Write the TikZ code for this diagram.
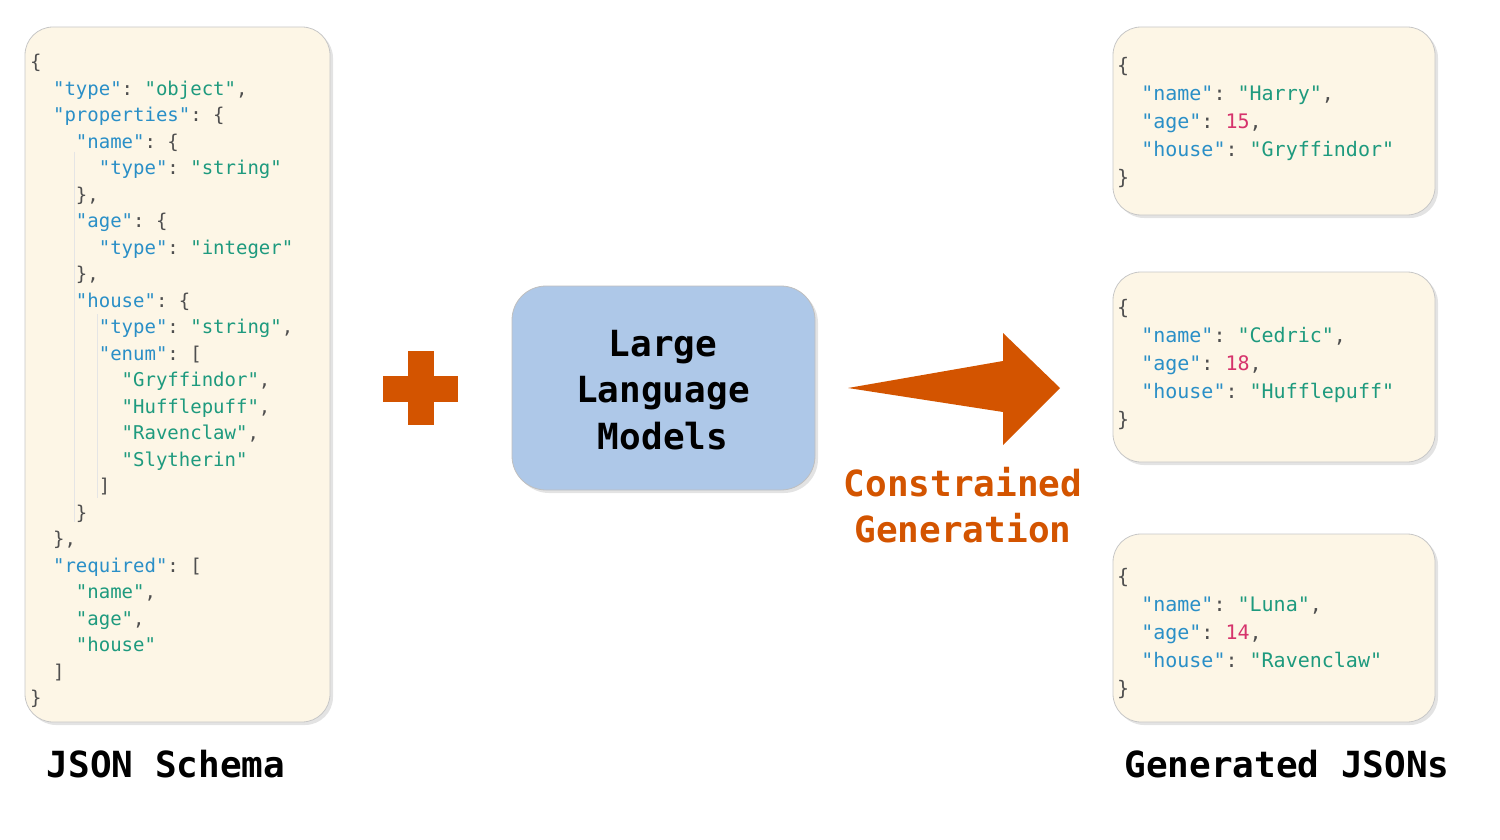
\documentclass[tikz,border=0pt]{standalone}
\usepackage{fontspec}
\usepackage{xcolor}
\usepackage{tikz}
\usetikzlibrary{shadows}
\setmonofont{DejaVu Sans Mono}
\definecolor{cream}{HTML}{FDF6E6}
\definecolor{llmblue}{HTML}{AEC8E8}
\definecolor{burnt}{HTML}{D35400}
\definecolor{jkey}{HTML}{2A8FC7}
\definecolor{jstr}{HTML}{1E9A7E}
\definecolor{jnum}{HTML}{D6336C}
\definecolor{jpunct}{HTML}{4F4F4F}
\newcommand\jk[1]{\textcolor{jkey}{"#1"}}
\newcommand\js[1]{\textcolor{jstr}{"#1"}}
\newcommand\jn[1]{\textcolor{jnum}{#1}}
\newcommand\ind[1]{\hspace*{\dimexpr#1\fontcharwd\font`x*2\relax}}
\tikzset{
  codebox/.style={draw=black!22, line width=0.8pt, fill=cream, rounded corners=28pt,
    drop shadow={opacity=0.22, shadow xshift=3pt, shadow yshift=-3pt}},
  llmbox/.style={draw=black!25, line width=0.8pt, fill=llmblue, rounded corners=34pt,
    drop shadow={opacity=0.22, shadow xshift=3pt, shadow yshift=-3pt}},
  guide/.style={draw=black!10, line width=0.8pt},
  schema/.style={anchor=north west, inner sep=0pt, align=left, text=jpunct,
    font=\ttfamily\fontsize{19}{26.5}\selectfont},
  sample/.style={anchor=north west, inner sep=0pt, align=left, text=jpunct,
    font=\ttfamily\fontsize{20}{28}\selectfont},
  big/.style={font=\ttfamily\bfseries\fontsize{36}{46.5}\selectfont, align=center, inner sep=0pt},
}

\begin{document}
\begin{tikzpicture}[x=1pt, y=-1pt]
  \useasboundingbox (0,0) rectangle (1500,840);
  % input schema
  \path[codebox] (25,27) rectangle (330,722);
  \draw[guide] (74,152) -- (74,522);
  \draw[guide] (97,314) -- (97,498);
  \node[schema] (schema) at (30,54) {%
    \{\\
    \ind1\jk{type}: \js{object},\\
    \ind1\jk{properties}: \{\\
    \ind2\jk{name}: \{\\
    \ind3\jk{type}: \js{string}\\
    \ind2\},\\
    \ind2\jk{age}: \{\\
    \ind3\jk{type}: \js{integer}\\
    \ind2\},\\
    \ind2\jk{house}: \{\\
    \ind3\jk{type}: \js{string},\\
    \ind3\jk{enum}: [\\
    \ind4\js{Gryffindor},\\
    \ind4\js{Hufflepuff},\\
    \ind4\js{Ravenclaw},\\
    \ind4\js{Slytherin}\\
    \ind3]\\
    \ind2\}\\
    \ind1\},\\
    \ind1\jk{required}: [\\
    \ind2\js{name},\\
    \ind2\js{age},\\
    \ind2\js{house}\\
    \ind1]\\
    \}};
  \node[big] (schemalabel) at (166,764) {JSON Schema};

  % plus sign
  \fill[burnt] (383,376) rectangle (458,402);
  \fill[burnt] (408,351) rectangle (434,425);

  % the model
  \path[llmbox] (512,286) rectangle (815,490);
  \node[big] (llm) at (663,390) {Large\\Language\\Models};

  % arrow
  \coordinate (tail) at (848,388);
  \coordinate (tip) at (1060,388);
  \fill[burnt] (tail) -- (1003,361) -- (1003,333) -- (tip) -- (1003,445) -- (1003,412) -- cycle;
  \node[big, text=burnt] (constr) at (963,505) {Constrained\\Generation};

  % outputs
  \path[codebox] (1113,27) rectangle (1435,215);
  \path[codebox] (1113,272) rectangle (1435,462);
  \path[codebox] (1113,534) rectangle (1435,722);
  \node[sample] (harry) at (1117,57) {%
    \{\\
    \ind1\jk{name}: \js{Harry},\\
    \ind1\jk{age}: \jn{15},\\
    \ind1\jk{house}: \js{Gryffindor}\\
    \}};
  \node[sample] (cedric) at (1117,299) {%
    \{\\
    \ind1\jk{name}: \js{Cedric},\\
    \ind1\jk{age}: \jn{18},\\
    \ind1\jk{house}: \js{Hufflepuff}\\
    \}};
  \node[sample] (luna) at (1117,568) {%
    \{\\
    \ind1\jk{name}: \js{Luna},\\
    \ind1\jk{age}: \jn{14},\\
    \ind1\jk{house}: \js{Ravenclaw}\\
    \}};
  \node[big] (outlabel) at (1287,764) {Generated JSONs};
\end{tikzpicture}
\end{document}
